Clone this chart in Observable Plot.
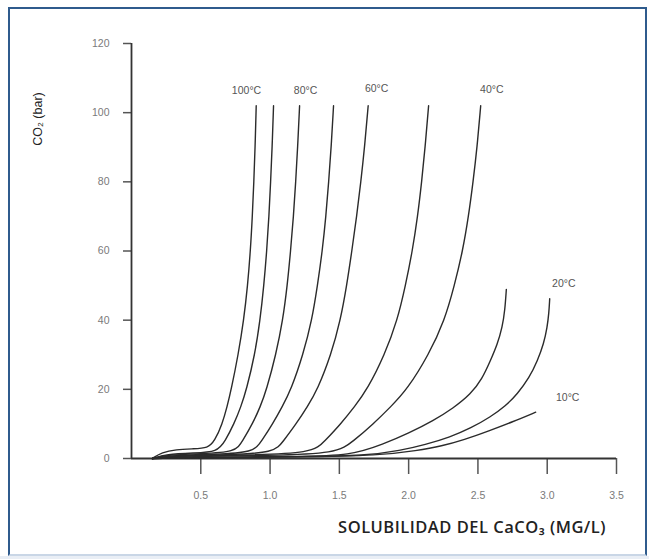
<!DOCTYPE html>
<html>
<head>
<meta charset="utf-8">
<script src="https://cdn.jsdelivr.net/npm/d3@7"></script>
<script src="https://cdn.jsdelivr.net/npm/@observablehq/plot@0.6"></script>
<style>
  html, body { margin: 0; padding: 0; background: #ffffff; }
  #wrap { position: relative; width: 649px; height: 559px; overflow: hidden; background: #ffffff; }
  #frame { position: absolute; left: 8px; top: 7px; width: 635px; height: 545px;
           border-left: 2px solid #2f5b8d; border-top: 2px solid #2f5b8d; border-right: 2px solid #2f5b8d;
           border-bottom: 2px solid #c9d6e6; box-sizing: content-box; }
  #bottomband { position: absolute; left: 0; top: 556px; width: 649px; height: 3px; background: #e9eef5; }
  #chart { position: absolute; left: 0; top: 0; }
  #ytitle { position: absolute; left: 38px; top: 119px; transform: translate(-50%, -50%) rotate(-90deg);
            font-family: "Liberation Sans", Arial, sans-serif; font-size: 12.5px; color: #222; white-space: nowrap; }
  #xtitle { position: absolute; right: 43px; top: 515px;
            font-family: "Open Sans", sans-serif; font-weight: 600; font-size: 16.5px; color: #222;
            white-space: nowrap; letter-spacing: 0.5px; }
</style>
</head>
<body>
<div id="wrap">
  <div id="frame"></div>
  <div id="bottomband"></div>
  <div id="chart"></div>
  <div id="ytitle">CO₂ (bar)</div>
  <div id="xtitle">SOLUBILIDAD DEL CaCO₃ (MG/L)</div>
</div>
<script>
// ---- data ----
const xTicks = [0.5, 1.0, 1.5, 2.0, 2.5, 3.0, 3.5];
const yTicks = [0, 20, 40, 60, 80, 100, 120];

const curveNames = ["100°C", "90°C", "80°C", "70°C", "60°C", "50°C", "40°C", "30°C", "20°C", "10°C"];

const s100 = [[0.15,0],[0.22,1.8],[0.32,2.6],[0.45,2.8],[0.55,3.0],[0.60,5],[0.655,10],[0.69,15],[0.72,20],[0.77,30],[0.81,40],[0.838,50],[0.858,60],[0.872,70],[0.883,80],[0.892,90],[0.90,102]];
const s90  = [[0.15,0],[0.25,1.2],[0.45,1.6],[0.62,1.9],[0.675,5],[0.74,10],[0.79,15],[0.83,20],[0.89,30],[0.928,40],[0.955,50],[0.976,60],[0.992,70],[1.004,80],[1.015,90],[1.025,102]];
const s80  = [[0.15,0],[0.25,1.0],[0.5,1.4],[0.75,1.8],[0.80,5],[0.873,10],[0.93,15],[0.975,20],[1.042,30],[1.092,40],[1.124,50],[1.148,60],[1.169,70],[1.185,80],[1.199,90],[1.213,102]];
const s70  = [[0.15,0],[0.3,0.9],[0.6,1.2],[0.88,1.7],[0.938,5],[1.019,10],[1.088,15],[1.152,20],[1.238,30],[1.302,40],[1.342,50],[1.377,60],[1.403,70],[1.423,80],[1.441,90],[1.458,102]];
const s60  = [[0.15,0],[0.3,0.8],[0.7,1.1],[1.03,1.6],[1.095,5],[1.188,10],[1.27,15],[1.343,20],[1.44,30],[1.508,40],[1.553,50],[1.59,60],[1.625,70],[1.655,80],[1.682,90],[1.708,102]];
const s50  = [[0.15,0],[0.3,0.7],[0.8,1.0],[1.31,1.5],[1.393,5],[1.51,10],[1.61,15],[1.702,20],[1.827,30],[1.919,40],[1.977,50],[2.027,60],[2.065,70],[2.094,80],[2.119,90],[2.144,102]];
const s40  = [[0.15,0],[0.4,0.6],[1.0,0.9],[1.48,1.4],[1.60,5],[1.745,10],[1.872,15],[1.99,20],[2.145,30],[2.26,40],[2.33,50],[2.39,60],[2.432,70],[2.465,80],[2.494,90],[2.52,102]];
const s30  = [[0.15,0],[0.6,0.4],[1.2,0.6],[1.58,0.8],[1.82,4.2],[2.0,7.3],[2.18,11],[2.32,14.5],[2.45,18.7],[2.53,23],[2.59,28.3],[2.64,33],[2.676,38],[2.695,43],[2.705,48.9]];
const s20  = [[0.15,0],[0.6,0.3],[1.2,0.5],[1.7,0.8],[1.94,2.3],[2.12,4.0],[2.30,6.2],[2.45,8.8],[2.59,12],[2.70,15.2],[2.785,18.7],[2.87,23.3],[2.93,28.3],[2.975,33.2],[3.0,38],[3.012,42],[3.018,46.2]];
const s10  = [[0.15,0],[0.6,0.3],[1.2,0.4],[1.8,0.9],[2.06,2.3],[2.24,3.6],[2.40,5.4],[2.58,8.0],[2.75,10.6],[2.917,13.4]];

const labelText = ["100°C", "80°C", "60°C", "40°C", "20°C", "10°C"];
const labelX = [0.83, 1.256, 1.769, 2.60, 3.12, 3.148];
const labelY = [106.4, 106.4, 107, 106.7, 50.6, 17.6];

// ---- build tables ----
const seriesList = [s100, s90, s80, s70, s60, s50, s40, s30, s20, s10];
const rows = seriesList.flatMap((s, i) => s.map(([x, y]) => ({x, y, name: curveNames[i]})));
const labels = labelText.map((t, i) => ({t, x: labelX[i], y: labelY[i]}));

const chart = Plot.plot({
  width: 649,
  height: 559,
  marginLeft: 131,
  marginRight: 33,
  marginTop: 43,
  marginBottom: 101,
  style: {background: "transparent", fontFamily: "Liberation Sans, Arial, sans-serif"},
  x: {domain: [0, 3.5]},
  y: {domain: [0, 120]},
  marks: [
    Plot.axisX({ticks: xTicks, tickSize: 16, tickPadding: 17, tickFormat: d3.format(".1f"),
                fontSize: 10.5, fill: "#7a7a7a", stroke: "#555", strokeWidth: 1.5, label: null}),
    Plot.axisY({ticks: yTicks, tickSize: 8, tickPadding: 14, tickFormat: d => String(d),
                fontSize: 10.5, fill: "#7a7a7a", stroke: "#555", strokeWidth: 1.5, label: null}),
    Plot.ruleX([0], {y1: 0, y2: 120, stroke: "#333", strokeWidth: 1.8}),
    Plot.ruleY([0], {x1: 0, x2: 3.5, stroke: "#333", strokeWidth: 2.2}),
    Plot.line(rows, {x: "x", y: "y", z: "name", curve: "basis", stroke: "#2b2b2b", strokeWidth: 1.4}),
    Plot.text(labels, {x: "x", y: "y", text: "t", fontSize: 10.5, fill: "#555"})
  ]
});
document.getElementById("chart").appendChild(chart);
</script>
</body>
</html>
